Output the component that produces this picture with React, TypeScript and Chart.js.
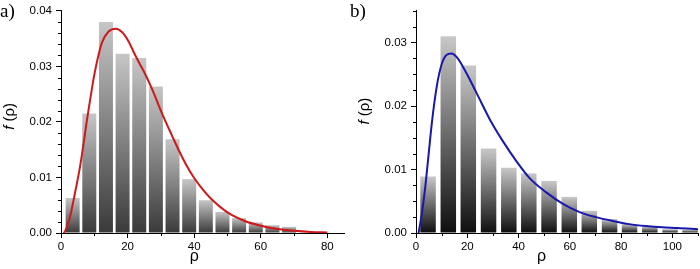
import React, { useEffect, useRef } from "react";
import { Chart, registerables } from "chart.js";

Chart.register(...registerables);
Chart.defaults.font.family = "'Liberation Sans', Arial, sans-serif";

// ---------- Panel a) ----------
const rhoBinsA = [3.5, 8.5, 13.5, 18.5, 23.5, 28.5, 33.5, 38.5, 43.5, 48.5, 53.5, 58.5, 63.5, 68.5];
const freqA = [0.0063, 0.0215, 0.038, 0.0323, 0.0315, 0.0264, 0.0169, 0.0097, 0.0059, 0.0038, 0.0027, 0.0019, 0.0014, 0.0011];
const fitRhoA = [0.8, 1.2, 2.7, 4.2, 5.7, 8.2, 10.2, 12.3, 14.3, 16.5, 18.3, 20.3, 22.3, 25.3, 27.3, 30.3, 32.3, 35.3, 37.5, 40, 42.5, 45, 50, 55, 60, 65, 70, 75, 80];
const fitA = [0, 0.0003, 0.0029, 0.0072, 0.0119, 0.0219, 0.0291, 0.0343, 0.0363, 0.0368, 0.0362, 0.0345, 0.0320, 0.0286, 0.0260, 0.0216, 0.0189, 0.0150, 0.0124, 0.0099, 0.0079, 0.0062, 0.0037, 0.0022, 0.0013, 0.0007, 0.0004, 0.0002, 0.0001];

// ---------- Panel b) ----------
const rhoBinsB = [4.7, 12.6, 20.4, 28.3, 36.2, 44.0, 51.9, 59.8, 67.6, 75.5, 83.3, 91.2, 99.1, 106.9];
const freqB = [0.0089, 0.031, 0.0264, 0.0133, 0.0103, 0.0094, 0.0082, 0.0057, 0.0035, 0.0022, 0.0014, 0.001, 0.0006, 0.0005];
const fitRhoB = [1.0, 2.3, 3.6, 4.9, 6.2, 8.1, 10.1, 12.0, 13.8, 15.9, 19.8, 23.7, 28.8, 34.0, 39.2, 44.4, 50.8, 57.3, 63.8, 70.2, 76.7, 83.2, 89.6, 96.1, 102, 110];
const fitB = [0, 0.0031, 0.0072, 0.0123, 0.0174, 0.0231, 0.0267, 0.0281, 0.0283, 0.0277, 0.0251, 0.022, 0.0179, 0.0144, 0.0113, 0.0086, 0.0064, 0.0046, 0.0033, 0.0025, 0.0019, 0.0014, 0.0011, 0.0009, 0.0008, 0.0006];

// axis tick settings
const xTickStepA = 10;
const xMajorA = 20;
const yTickStepA = 0.002;
const yMajorA = 0.01;
const xTickStepB = 10;
const xMajorB = 20;
const yTickStepB = 0.0025;
const yMajorB = 0.01;

const xTitle = "ρ";
const yTitleItalic = "f";
const yTitleRest = "(ρ)";

type PanelCfg = {
  letter: string;
  bins: number[];
  freq: number[];
  fitX: number[];
  fitY: number[];
  lineColor: string;
  xMax: number;
  yMax: number;
  xStep: number;
  xMajor: number;
  yStep: number;
  yMajor: number;
  barFrac: number;
  yAxisWidth: number;
  padRight: number;
  padTop: number;
  gradTop: string;
  gradBottom: string;
  xTitleAt: number;
  yTitleAt: number;
  yTitleX: number;
};

const isMult = (v: number, m: number) => Math.abs(v / m - Math.round(v / m)) < 1e-6;

const textPlugin = {
  id: "panelText",
  afterDraw(chart: any, _args: any, opts: any) {
    const { ctx } = chart;
    const xs = chart.scales.x;
    const ys = chart.scales.y;
    ctx.save();
    // minor ticks
    ctx.strokeStyle = "#000";
    ctx.lineWidth = 1;
    ctx.beginPath();
    for (const t of ys.ticks) {
      if (isMult(t.value, opts.yMajor)) continue;
      const py = Math.round(ys.getPixelForValue(t.value)) + 0.5;
      const px = Math.round(ys.right);
      ctx.moveTo(px - 3, py);
      ctx.lineTo(px, py);
    }
    for (const t of xs.ticks) {
      if (isMult(t.value, opts.xMajor)) continue;
      const px = Math.round(xs.getPixelForValue(t.value)) + 0.5;
      const py = Math.round(xs.top);
      ctx.moveTo(px, py);
      ctx.lineTo(px, py + 3);
    }
    ctx.stroke();

    ctx.fillStyle = "#000";
    // panel letter
    ctx.font = "19px 'Liberation Serif', serif";
    ctx.textAlign = "left";
    ctx.textBaseline = "alphabetic";
    ctx.fillText(opts.letter, 0, 17);

    // x title
    ctx.font = "16px 'Liberation Sans', sans-serif";
    ctx.textAlign = "center";
    ctx.textBaseline = "middle";
    ctx.fillText(xTitle, xs.getPixelForValue(opts.xTitleAt), 257);

    // y title (rotated)
    ctx.translate(opts.yTitleX, ys.getPixelForValue(opts.yTitleAt));
    ctx.rotate(-Math.PI / 2);
    const fi = "italic 15px 'Liberation Sans', sans-serif";
    const fr = "15px 'Liberation Sans', sans-serif";
    ctx.font = fi;
    const w1 = ctx.measureText(yTitleItalic + " ").width;
    ctx.font = fr;
    const w2 = ctx.measureText(yTitleRest).width;
    const start = -(w1 + w2) / 2;
    ctx.textAlign = "left";
    ctx.font = fi;
    ctx.fillText(yTitleItalic, start, 0);
    ctx.font = fr;
    ctx.fillText(yTitleRest, start + w1, 0);
    ctx.restore();
  },
};

function Panel({ cfg }: { cfg: PanelCfg }) {
  const ref = useRef<HTMLCanvasElement | null>(null);
  useEffect(() => {
    if (!ref.current) return;
    const tickFont = { family: "'Liberation Sans', Arial, sans-serif", size: 11.5 };
    const chart = new Chart(ref.current, {
      type: "bar",
      data: {
        datasets: [
          {
            type: "line",
            data: cfg.fitX.map((x, i) => ({ x, y: cfg.fitY[i] })),
            borderColor: cfg.lineColor,
            borderWidth: 2,
            pointRadius: 0,
            fill: false,
            cubicInterpolationMode: "monotone",
            order: 1,
          } as any,
          {
            type: "bar",
            data: cfg.bins.map((x, i) => ({ x, y: cfg.freq[i] })),
            borderWidth: 0,
            barPercentage: 1,
            categoryPercentage: cfg.barFrac,
            order: 2,
            backgroundColor: (c: any) => {
              const ch = c.chart;
              const ys = ch.scales && ch.scales.y;
              if (!ys || !c.raw || c.type !== "data") return "#888";
              const top = ys.getPixelForValue(c.raw.y);
              const bot = ys.getPixelForValue(0);
              if (!isFinite(top) || !isFinite(bot) || top === bot) return "#888";
              const g = ch.ctx.createLinearGradient(0, top, 0, bot);
              g.addColorStop(0, cfg.gradTop);
              g.addColorStop(1, cfg.gradBottom);
              return g;
            },
          } as any,
        ],
      },
      options: {
        animation: false,
        responsive: false,
        devicePixelRatio: 1,
        layout: { padding: { left: 0, right: cfg.padRight, top: cfg.padTop, bottom: 0 } },
        plugins: {
          legend: { display: false },
          tooltip: { enabled: false },
          panelText: {
            letter: cfg.letter,
            xMajor: cfg.xMajor,
            yMajor: cfg.yMajor,
            xTitleAt: cfg.xTitleAt,
            yTitleAt: cfg.yTitleAt,
            yTitleX: cfg.yTitleX,
          },
        } as any,
        scales: {
          x: {
            type: "linear",
            min: 0,
            max: cfg.xMax,
            offset: false,
            grid: {
              display: true,
              drawOnChartArea: false,
              drawTicks: true,
              tickLength: 5,
              offset: false,
              tickColor: (c: any) => (c.tick && isMult(c.tick.value, cfg.xMajor) ? "#000" : "rgba(0,0,0,0)"),
            },
            border: { display: true, color: "#000", width: 1 },
            ticks: {
              stepSize: cfg.xStep,
              autoSkip: false,
              maxRotation: 0,
              includeBounds: false,
              color: "#000",
              font: tickFont,
              padding: 2,
              callback: (v: any) => (isMult(Number(v), cfg.xMajor) ? String(Math.round(Number(v))) : ""),
            },
            afterFit: (s: any) => {
              s.height = 36;
            },
          } as any,
          y: {
            type: "linear",
            min: 0,
            max: cfg.yMax,
            grid: {
              display: true,
              drawOnChartArea: false,
              drawTicks: true,
              tickLength: 5,
              tickColor: (c: any) => (c.tick && isMult(c.tick.value, cfg.yMajor) ? "#000" : "rgba(0,0,0,0)"),
            },
            border: { display: true, color: "#000", width: 1 },
            ticks: {
              stepSize: cfg.yStep,
              autoSkip: false,
              includeBounds: false,
              color: "#000",
              font: tickFont,
              padding: 4,
              callback: (v: any) => (isMult(Number(v), cfg.yMajor) ? Number(v).toFixed(2) : ""),
            },
            afterFit: (s: any) => {
              s.width = cfg.yAxisWidth;
            },
          } as any,
        },
      },
      plugins: [textPlugin as any],
    });
    return () => chart.destroy();
  }, [cfg]);
  return <canvas ref={ref} width={350} height={269} style={{ display: "block", width: 350, height: 269 }} />;
}

const cfgA: PanelCfg = {
  letter: "a)",
  bins: rhoBinsA,
  freq: freqA,
  fitX: fitRhoA,
  fitY: fitA,
  lineColor: "rgb(206,24,26)",
  xMax: 85,
  yMax: 0.04,
  xStep: xTickStepA,
  xMajor: xMajorA,
  yStep: yTickStepA,
  yMajor: yMajorA,
  barFrac: 0.84,
  yAxisWidth: 61,
  padRight: 6,
  padTop: 6,
  gradTop: "#c6c6c6",
  gradBottom: "#3a3a3a",
  xTitleAt: 40,
  yTitleAt: 0.021,
  yTitleX: 10,
};

const cfgB: PanelCfg = {
  letter: "b)",
  bins: rhoBinsB,
  freq: freqB,
  fitX: fitRhoB,
  fitY: fitB,
  lineColor: "rgb(24,24,172)",
  xMax: 110,
  yMax: 0.035,
  xStep: xTickStepB,
  xMajor: xMajorB,
  yStep: yTickStepB,
  yMajor: yMajorB,
  barFrac: 0.775,
  yAxisWidth: 66,
  padRight: 2,
  padTop: 5,
  gradTop: "#c8c8c8",
  gradBottom: "#0e0e0e",
  xTitleAt: 49,
  yTitleAt: 0.0192,
  yTitleX: 15,
};

export default function App() {
  return (
    <div style={{ position: "fixed", left: 0, top: 0, width: 700, height: 269, background: "#fff" }}>
      <div style={{ position: "absolute", left: 0, top: 0 }}>
        <Panel cfg={cfgA} />
      </div>
      <div style={{ position: "absolute", left: 350, top: 0 }}>
        <Panel cfg={cfgB} />
      </div>
    </div>
  );
}
